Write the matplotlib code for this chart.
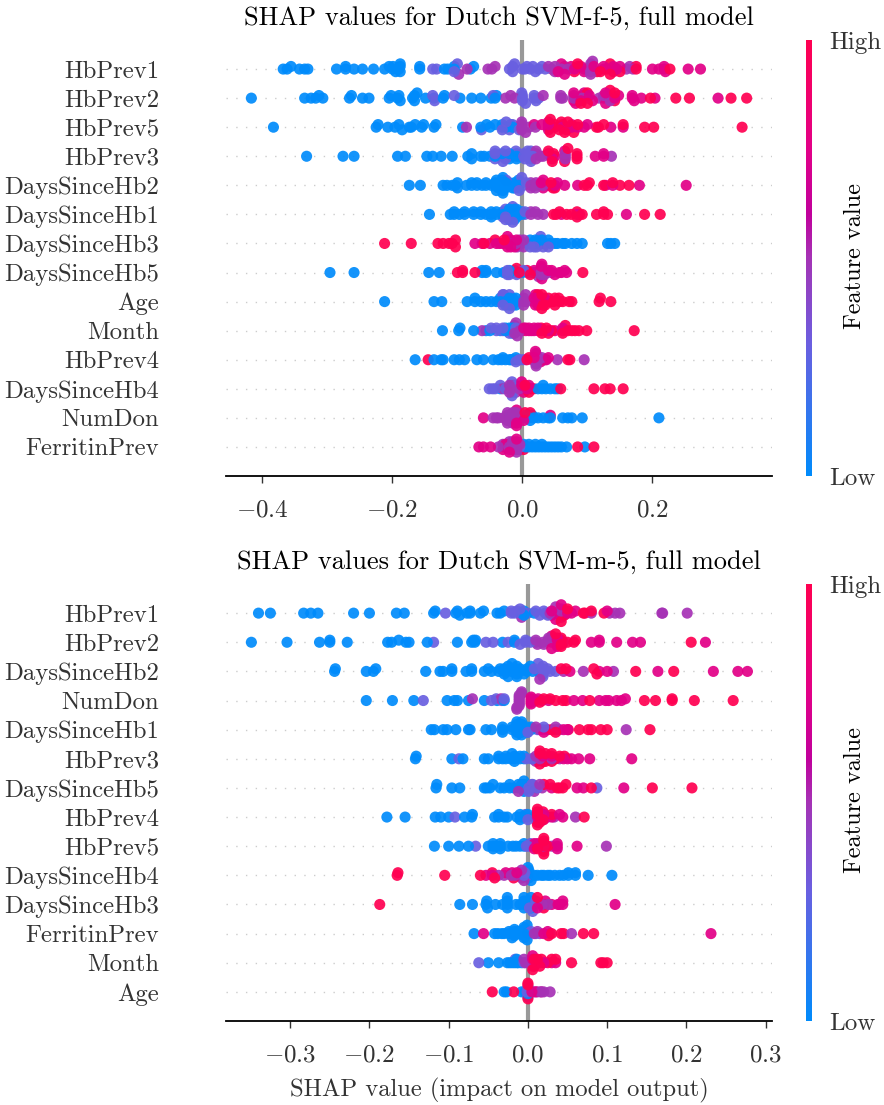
import numpy as np
import matplotlib
matplotlib.use("Agg")
import matplotlib.pyplot as plt
from matplotlib.colors import LinearSegmentedColormap
from matplotlib.cm import ScalarMappable

plt.rcParams["font.family"] = ["cmr10", "DejaVu Serif"]
plt.rcParams["mathtext.fontset"] = "cm"
plt.rcParams["axes.unicode_minus"] = False

# feature value levels the points are sorted into: blue, blue-violet, purple, magenta, red
LEVELS = [0.0, 0.3, 0.5, 0.75, 1.0]

FEATURES_F = ["HbPrev1", "HbPrev2", "HbPrev5", "HbPrev3", "DaysSinceHb2", "DaysSinceHb1", "DaysSinceHb3",
              "DaysSinceHb5", "Age", "Month", "HbPrev4", "DaysSinceHb4", "NumDon", "FerritinPrev"]
FEATURES_M = ["HbPrev1", "HbPrev2", "DaysSinceHb2", "NumDon", "DaysSinceHb1", "HbPrev3", "DaysSinceHb5",
              "HbPrev4", "HbPrev5", "DaysSinceHb4", "DaysSinceHb3", "FerritinPrev", "Month", "Age"]

# female model, SHAP values per level
F_HBPREV1 = [[-.368, -.362, -.356, -.343, -.335, -.33, -.286, -.272, -.272, -.259, -.246, -.229, -.212, -.205, -.2, -.199, -.195, -.19, -.188, -.188, -.188, -.158, -.158, -.12, -.115, -.105, -.105, -.08, -.075],
             [-.138, -.132, -.105, -.1, -.02, -.015, -.015, -.012, 0.0, .004, .007, .012, .016, .02, .025, .03, .035],
             [-.098, -.085, -.053, -.047, -.042, .04, .045, .05, .05, .06, .065, .07, .095, .105, .105, .105, .105, .105, .108, .109, .16, .17, .165],
             [.055, .06, .065, .075, .08, .085, .09, .095, .11, .125, .125, .13, .14, .14, .145, .15, .2, .21, .218, .218, .22, .255, .274],
             [.08, .085, .115, .12, .135, .135, .15, .175, .175, .227]]
F_HBPREV2 = [[-.417, -.335, -.325, -.318, -.313, -.307, -.266, -.263, -.246, -.236, -.205, -.202, -.192, -.19, -.188, -.169, -.166, -.166, -.162, -.149, -.136, -.122, -.12, -.096, -.078, -.064, -.048, -.042, -.04],
             [-.138, -.135, -.105, -.045, 0.0, 0.0, 0.0, -.001, .005, .018, .018, .021, .025],
             [-.026, -.018, -.012, .032, .059, .059, .062, .079, .079, .092, .092, .1, .125, .125, .118, .135],
             [.079, .079, .082, .09, .095, .103, .108, .128, .128, .142, .148, .169, .169, .172, .183, .204, .301],
             [.09, .1, .1, .142, .142, .135, .197, .236, .257, .321, .345]]
F_HBPREV5 = [[-.383, -.225, -.222, -.207, -.196, -.19, -.185, -.174, -.171, -.165, -.155, -.152, -.136, -.133, -.092, -.064, -.055, -.05, -.042, -.031, -.031, -.025, -.018, -.015],
             [-.063, -.031, -.015, -.005, -.02, -.025],
             [-.086, -.001, -.001, -.001, -.001, .02, .01, .005],
             [.018, .03, .04, .04, .04, .04, .05, .062, .062, .076, .076, .085, .095, .1, .136, .155],
             [.043, .043, .05, .057, .06, .065, .068, .07, .079, .085, .114, .117, .125, .155, .188, .202, .338]]
F_HBPREV3 = [[-.332, -.276, -.259, -.192, -.18, -.147, -.138, -.125, -.108, -.084, -.078, -.078, -.064, -.059, -.05, -.042, -.031, -.031, -.02, -.02, -.02, -.009, -.009, -.009, -.005],
             [-.042, -.042, -.042, -.026, -.026, -.03, .002, .002, .004, .008, .013, .013, .013, .013, .013, -.01, .016],
             [.021, .021, .021, .032, .066, .066, .043, .066, .137, .028],
             [.04, .046, .065, .112, .125, .125, .05],
             [.04, .048, .046, .065, .07, .084, .084, .084]]
F_DSH2 = [[-.174, -.157, -.122, -.116, -.108, -.103, -.1, -.1, -.086, -.078, -.078, -.07, -.07, -.062, -.056, -.056, -.048, -.042, -.042, -.037, -.031, -.031, -.031, -.031, -.026, -.026, -.026, -.02, -.02, -.015, -.009, -.006, -.006, -.006, -.006, -.03, -.03, -.03, -.04, -.04, -.012, -.012],
          [.002, -.005, -.001, .006, -.025],
          [.013, .021, .032, .013, .021, .013, .02, .04],
          [.029, .043, .05, .054, .065, .128, .139, .18, .252, .032, .032, .085],
          [.1, .103, .095, .125, .139, .15, .164, .05, .044, .047]]
F_DSH1 = [[-.143, -.111, -.105, -.105, -.097, -.089, -.089, -.075, -.075, -.064, -.064, -.056, -.048, -.048, -.048, -.04, -.04, -.026, -.026, -.018, -.015, -.009, -.009, -.009, -.009, -.001, -.001, -.02, -.02, -.02, -.02, -.012, -.012, -.012, -.012, -.03, -.03],
          [-.026, -.026, -.026, .004, .004, -.015, -.015, -.03],
          [.013, .013, .024, .032, .02],
          [.16, .084, .06],
          [.048, .052, .057, .068, .075, .084, .084, .088, .092, .114, .125, .125, .131, .188, .212]]
F_DSH3 = [[.015, .02, .026, .043, .05, .054, .062, .066, .076, .084, .092, .131, .142, .02, .03, .012, .035, .03, .04, .136, .025],
          [.018, .032, .04, .028, .012, .022],
          [-.015, -.001, .002, -.004, -.004, -.008, -.01, .002],
          [-.073, -.062, -.023, -.023, -.023, -.023, -.009, -.012, -.03, -.018, -.018, -.035, -.04, -.05],
          [-.212, -.171, -.13, -.122, -.113, -.108, -.103, -.103, -.059, -.042, -.028]]
F_DSH5 = [[-.296, -.259, -.144, -.128, -.062, -.062, -.056, -.056, -.04, -.029, -.026, -.02, -.012, -.02, -.012, .0, .008],
          [-.023, -.009, .002, .015, .032, -.02, -.023, .02],
          [.029, .029, .029, .029, .032, .045, .034, .025, .038],
          [.018, .029, .03, .045, .05, .057, .06, .068, .03, .04, .065],
          [-.1, -.092, -.073, -.009, -.005, .007, .012, .093, -.092]]
F_AGE = [[-.212, -.136, -.085, -.073, -.073, -.064, -.056, -.048, -.04, -.034, -.034, -.026, -.026, -.018, -.015, -.02, -.02, -.026, -.01, -.01, -.01, -.124, -.015, -.015],
         [-.029, -.03, -.02, -.02, -.03],
         [.002, .002, .002, .018, .005, .006],
         [.018, .029, .02, .028, .025, .02, .034],
         [.024, .032, .04, .048, .05, .057, .062, .072, .076, .118, .136, .03, .04, .05, .12, .035, .045, .03, .024, .056]]
F_MONTH = [[-.123, -.098, -.096, -.075, -.056, -.05, -.034, -.026, -.015, -.009, -.02, -.015, -.015, -.02, -.026],
           [-.048, -.04, -.04, -.03, -.03, -.02, -.01],
           [-.062, -.012, -.012, -.004, -.001, -.008, -.01],
           [.002, .005, .01, .018, .024, .062, .01, .018, .024, .03, .04, .05, .062, .005, .014],
           [.029, .037, .045, .062, .066, .07, .076, .081, .087, .099, .172, .03, .04]]
F_HBPREV4 = [[-.165, -.136, -.125, -.122, -.105, -.097, -.089, -.07, -.06, -.045, -.037, -.032, -.026, -.018, -.009, -.03, -.015, -.02, -.01],
             [-.01, .0, -.005, .005],
             [.021, .021, .021, .021, .021, .021, .021, .032, .03, .035, .054, .095, .025, .015],
             [.018, .037, .02, .028, .04],
             [-.145, .007, .01, .07, .073]]
F_DSH4 = [[-.034, -.016, -.001, .024, .03, .032, .036, .043, .05, .054, -.012, -.02],
          [-.051, -.042, -.034, -.026, -.016, -.016, -.016, -.016, -.01, -.01, -.046],
          [-.02, -.01, -.005, -.012, -.02, -.03],
          [-.001, .002, .007, .012, .01, .005, -.001, .015],
          [.059, .11, .127, .135, .155, .018, .004, .01]]
F_NUMDON = [[.004, .01, .013, .018, .024, .032, .04, .043, .062, .07, .076, .092, .21, .008, .015, .005, .012],
            [-.02, -.01],
            [-.045, -.04, -.037, -.029, -.023, -.023, -.023, -.023, -.023, -.015, -.015, -.015, -.015, -.015, -.007, -.007, -.01, -.01, -.01],
            [-.06, -.009, -.009, -.009, .043, .002],
            [.012, .004]]
F_FERRITIN = [[.002, .01, .02, .03, .04, .05, .06, .068, .096, .015, .025, .01, .02, .035, .045, .055, .002, .005, .03],
              [-.004, -.01, -.015, -.01],
              [-.037, -.029, -.02, -.02, -.02, -.02, -.009, -.009, -.009, -.009, -.009, -.03, -.015, -.015, -.015, -.025, -.004, -.004],
              [-.067, -.06, -.049, -.026, -.009, -.03, -.02],
              [.002, .085, .11]]

# male model, SHAP values per level
M_HBPREV1 = [[-.34, -.325, -.283, -.274, -.265, -.22, -.2, -.166, -.156, -.119, -.117, -.091, -.089, -.086, -.077, -.073, -.073, -.06, -.056, -.039, -.035, -.008, -.005, .008, -.03, -.005],
             [-.104, -.021, -.021, -.017, -.014, -.01, .022, .01, .0, .015, .02, .025],
             [-.008, .028, .035, .042, .042, .042, .042, .08, .103, .11, .116, .169, .17, .201, .035],
             [.03, .035, .05, .055, .06, .03, .1, .05, .042],
             [.046, .07, .072, .08, .096, .05, .042]]
M_HBPREV2 = [[-.349, -.304, -.263, -.25, -.25, -.228, -.177, -.172, -.163, -.154, -.15, -.127, -.089, -.071, -.069, -.067, -.032, -.017, -.017, -.066],
             [-.119, -.053, -.044, -.003, .01, -.01, -.003, .003, -.025],
             [.01, .019, .026, .012, .02, .03, .026, .045],
             [.037, .037, .037, .037, .08, .09, .09, .112, .132, .142, .224, .03, .03],
             [.042, .042, .042, .042, .058, .06, .206, .035, .05]]
M_DSH2 = [[-.244, -.243, -.204, -.195, -.192, -.129, -.111, -.107, -.096, -.096, -.078, -.071, -.071, -.055, -.05, -.046, -.037, -.03, -.03, -.03, -.021, -.021, -.014, -.014, -.014, -.001, -.001, .006, -.025, -.025, -.02, -.01, -.01, -.005, -.035, .003],
          [.013, .019, .019, .019, .019, .028, .013, .008, .025, .035],
          [.045, .108, .015, .07],
          [.053, .164, .234, .265, .277, .1, .09],
          [.042, .048, .083, .087, .136, .184]]
M_NUMDON = [[-.204, -.171, -.144, -.102, -.093, -.089, -.075, -.055, -.039, -.03],
            [-.132, -.046, -.033, -.03, -.04],
            [-.07, -.034, -.011, -.011, -.011, -.011, -.011, -.011, -.011, -.008, -.014, -.008, -.014],
            [.004, .004, .004, .004, .004, .01, .013, .018, .026, .058, .069, .098, .102, .112, .118, .123, .09],
            [.02, .028, .044, .048, .078, .147, .161, .182, .182, .21, .259, .035, .015]]
M_DSH1 = [[-.122, -.118, -.107, -.102, -.091, -.075, -.073, -.053, -.046, -.032, -.032, -.032, -.014, -.014, -.014, -.014, -.014, -.014, -.008, -.008, -.008, -.008, -.008, -.008, -.001, -.001, -.001, .004, .004, -.01, -.01, -.01, -.02, -.02],
          [.019, .0, .012, .02],
          [.035, .035, .124, .01, .015, .04],
          [.02, .05, .025, .045],
          [.03, .035, .051, .076, .08, .092, .1, .154, .065]]
M_HBPREV3 = [[-.142, -.141, -.096, -.082, -.055, -.05, -.037, -.037, -.032, -.028, -.028, -.017, -.017, -.017, -.005, -.02, -.01, -.01, -.005, -.022],
             [-.087, .004, -.002, .006, .012],
             [.015, .02, .01, .01, .03, .04],
             [.019, .019, .045, .055, .064, .131, .078, .02, .03, .05],
             [.015, .015, .015, .022, .022, .03, .04, .046, .03, .035]]
M_DSH5 = [[-.116, -.115, -.096, -.086, -.055, -.052, -.048, -.044, -.035, -.023, -.023, -.012, -.012, -.005, -.005, -.005, -.005, -.008, -.008, -.018, -.03],
          [.001, .01, .087, .005, .001, .006, .012],
          [.008, .015, .018, -.012],
          [.03, .062, .121, .07],
          [.02, .028, .037, .044, .048, .08, .157, .207, .04]]
M_HBPREV4 = [[-.178, -.155, -.117, -.11, -.1, -.08, -.071, -.07, -.042, -.037, -.037, -.026, -.014, -.008, -.03, -.01, -.01, -.005, -.001, .0],
             [-.092, .0, -.003],
             [.017, .033, .06, .02, .017, .025],
             [.012, .044, .02, .03, .04, .02],
             [.012, .012, .012, .012, .012, .012, .019, .019, .071, .03, .015, .008]]
M_HBPREV5 = [[-.118, -.1, -.087, -.075, -.05, -.044, -.044, -.044, -.035, -.035, -.035, -.019, -.005, -.04, -.01, -.025, -.005, -.015],
             [-.066, 0.0, .005, -.002, .003],
             [.02, .03, .099, .012, .01],
             [.008, .008, .037, .037, .037, .062, .02, .012, .02],
             [.02, .02, .02, .02, .022, .025, .012, .015]]
M_DSH4 = [[.001, .001, .001, .001, .004, .008, .017, .028, .034, .04, .045, .051, .051, .06, .06, .076, .106, .012, .02, .0, .025],
          [-.005, -.001, -.004, -.008],
          [-.037, -.03, -.021, -.008, -.008, -.012, -.016, -.005],
          [-.053, -.028, -.014, -.02, -.045],
          [-.165, -.164, -.105, -.06, -.045, -.042, -.018]]
M_DSH3 = [[-.086, -.07, -.053, -.052, -.051, -.041, -.032, -.026, -.026, -.026, -.026, -.005, -.005, -.005, -.005, .004, .004, .004, .004, .0, .0, -.015, -.01],
          [.002, .01, .01, .006],
          [.026, .02, .018],
          [.022, .038, .04, .044, .044, .11, .03, .012],
          [-.187, .012, .02]]
M_FERRITIN = [[-.068, -.042, -.038, -.033, -.03, -.024, -.024, -.017, -.017, -.017, -.017, -.005, -.005, -.005, -.005, -.005, -.005, -.01, -.01, -.012, -.012, -.001, -.001, -.02],
              [.0, .01, .004],
              [.008, .028, .055, .015, .012],
              [-.056, .02, .231, .025],
              [.026, .042, .045, .07, .083, .03]]
M_MONTH = [[-.05, -.037, -.026, -.023, -.014, -.014, -.02, -.008, -.012, -.017],
           [-.062, -.005, -.016],
           [-.005, .015, -.003],
           [.006, .006, .006, .006, .03, .02, .035, .012],
           [.008, .008, .008, .012, .017, .035, .03, .055, .092, .1, .095, .015, .025, .006]]
M_AGE = [[-.027, -.03, -.008, 0.0, 0.0, 0.0, -.004],
         [0.0, 0.0, 0.0, 0.0, -.001, .002],
         [.028, .008, .016, .012, .02],
         [.017, .005, .01],
         [-.045, -.018, 0.0, 0.0, 0.0]]

ROWS_F = [F_HBPREV1, F_HBPREV2, F_HBPREV5, F_HBPREV3, F_DSH2, F_DSH1, F_DSH3, F_DSH5, F_AGE, F_MONTH,
          F_HBPREV4, F_DSH4, F_NUMDON, F_FERRITIN]
ROWS_M = [M_HBPREV1, M_HBPREV2, M_DSH2, M_NUMDON, M_DSH1, M_HBPREV3, M_DSH5, M_HBPREV4, M_HBPREV5, M_DSH4,
          M_DSH3, M_FERRITIN, M_MONTH, M_AGE]

TICKS_F = [-0.4, -0.2, 0.0, 0.2]
TICKS_M = [-0.3, -0.2, -0.1, 0.0, 0.1, 0.2, 0.3]

red_blue = LinearSegmentedColormap.from_list(
    "red_blue",
    [(0, "#008bfb"), (0.3, "#6a5fe0"), (0.5, "#a533b5"), (0.6, "#c0009c"), (0.75, "#e20088"), (1, "#ff0051")],
)
W, H = 884, 1105


def swarm(x, row_height=0.4, nbins=60):
    # same stacking as the shap summary plot, without the jitter
    x = np.asarray(x)
    span = max(np.ptp(x), 1e-9)
    quant = np.round(nbins * (x - x.min()) / span)
    inds = np.argsort(quant, kind="stable")
    ys = np.zeros(len(x))
    layer, last_bin = 0, -1
    for i in inds:
        if quant[i] != last_bin:
            layer = 0
        ys[i] = np.ceil(layer / 2) * ((layer % 2) * 2 - 1)
        layer += 1
        last_bin = quant[i]
    return ys * (0.9 * row_height / np.max(ys + 1))


def beeswarm(ax, rows, names, xlim, ticks, title):
    n = len(rows)
    ax.axvline(0, color="#999999", lw=3, zorder=0)
    for i, row in enumerate(rows):
        pos = n - 1 - i
        ax.axhline(pos, color="#cccccc", lw=1, dashes=(1, 6), zorder=0)
        x = np.concatenate([np.array(v, dtype=float) for v in row])
        c = np.concatenate([np.full(len(v), lev) for v, lev in zip(row, LEVELS)])
        y = pos + swarm(x)
        order = np.concatenate([np.arange(len(x))[::2], np.arange(len(x))[1::2]])
        ax.scatter(x[order], y[order], c=c[order], cmap=red_blue, vmin=0, vmax=1, s=64, lw=0, alpha=0.92, zorder=3)
    ax.set_xlim(*xlim)
    ax.set_ylim(-1, n)
    ax.set_yticks(range(n))
    ax.set_yticklabels(names[::-1], fontsize=17.8, color="#333333")
    ax.set_xticks(ticks)
    ax.set_xticklabels(["$%s$" % ("%.1f" % t) for t in ticks], fontsize=18, color="#333333")
    ax.tick_params(axis="y", length=0, pad=48)
    ax.tick_params(axis="x", length=5, width=1, color="#333333", pad=12)
    for s in ["top", "left", "right"]:
        ax.spines[s].set_visible(False)
    ax.spines["bottom"].set_linewidth(1.3)
    ax.set_title(title, fontsize=19, pad=11)


def add_cbar(fig, box):
    cax = fig.add_axes(box)
    cb = fig.colorbar(ScalarMappable(cmap=red_blue), cax=cax, ticks=[0, 1])
    cb.set_ticklabels(["Low", "High"], fontsize=18, color="#333333")
    cb.ax.tick_params(length=0, pad=12.7)
    cb.outline.set_visible(False)
    cax.text(8.2, 0.505, "Feature value", transform=cax.transAxes, rotation=90, ha="center", va="center", fontsize=17.5)


fig = plt.figure(figsize=(W / 100, H / 100), dpi=100)

ax1 = fig.add_axes([226 / W, 1 - 476 / H, 546 / W, 436 / H])
beeswarm(ax1, ROWS_F, FEATURES_F, (-0.456, 0.384), TICKS_F, "SHAP values for Dutch SVM-f-5, full model")
ax2 = fig.add_axes([226 / W, 1 - 1021 / H, 546 / W, 437 / H])
beeswarm(ax2, ROWS_M, FEATURES_M, (-0.381, 0.308), TICKS_M, "SHAP values for Dutch SVM-m-5, full model")
ax2.set_xlabel("SHAP value (impact on model output)", fontsize=17.7, labelpad=8, color="#333333")

add_cbar(fig, [806 / W, 1 - 476 / H, 6 / W, 436 / H])
add_cbar(fig, [806 / W, 1 - 1021 / H, 6 / W, 437 / H])

fig.savefig("out.png", dpi=100)
